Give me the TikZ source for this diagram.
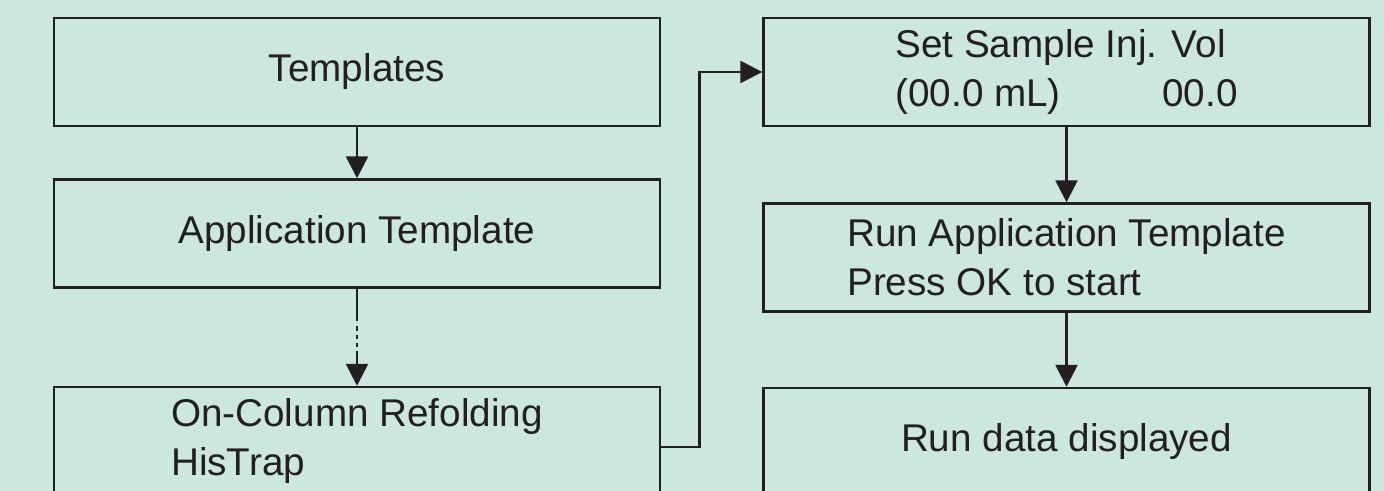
\documentclass[tikz,border=0pt]{standalone}
\usepackage{fontspec}
\setmainfont{Liberation Sans}
\usetikzlibrary{arrows.meta,positioning}
\definecolor{bgteal}{RGB}{204,230,224}
\definecolor{inkdark}{RGB}{35,31,32}
\begin{document}
\begin{tikzpicture}[
    box/.style={draw=inkdark, line width=1.4pt, minimum width=12.12cm, minimum height=2.16cm,
        align=left, inner sep=0pt, text=inkdark, font=\fontsize{22}{28}\selectfont},
    flow/.style={draw=inkdark, line width=1.5pt, -{Triangle[length=0.44cm,width=0.44cm]}}
]
    % Background
    \fill[bgteal] (0,0) rectangle (27.68,-9.82);
    \clip (0,0) rectangle (27.68,-9.82);
    % Left-hand boxes
    \node[box] (templates) at (7.14,-1.44) {Templates};
    \node[box] (apptemplate) at (7.14,-4.67) {Application Template};
    \node[box] (refolding) at (7.14,-8.82) {On-Column Refolding\\HisTrap};
    % Right-hand boxes
    \node[box] (injvol) at (21.33,-1.44) {Set Sample Inj. Vol\\\makebox[5.34cm][l]{(00.0 mL)}00.0};
    \node[box] (runapp) at (21.33,-5.15) {Run Application Template\\Press OK to start};
    \node[box] (rundata) at (21.33,-8.84) {Run data displayed};
    % Left-hand arrows
    \draw[flow] (templates.south) -- (apptemplate.north);
    \draw[flow, dash pattern=on 0.64cm off 0.1cm on 0.1cm off 0.08cm on 0.08cm off 0.08cm on 0.08cm off 0.08cm on 2cm]
        (apptemplate.south) -- (refolding.north);
    % Link to right-hand column
    \draw[flow] ([yshift=-0.12cm]refolding.east) -- ++(0.76,0) |- (injvol.west);
    % Right-hand arrows
    \draw[flow] (injvol.south) -- (runapp.north);
    \draw[flow] (runapp.south) -- (rundata.north);
\end{tikzpicture}
\end{document}
